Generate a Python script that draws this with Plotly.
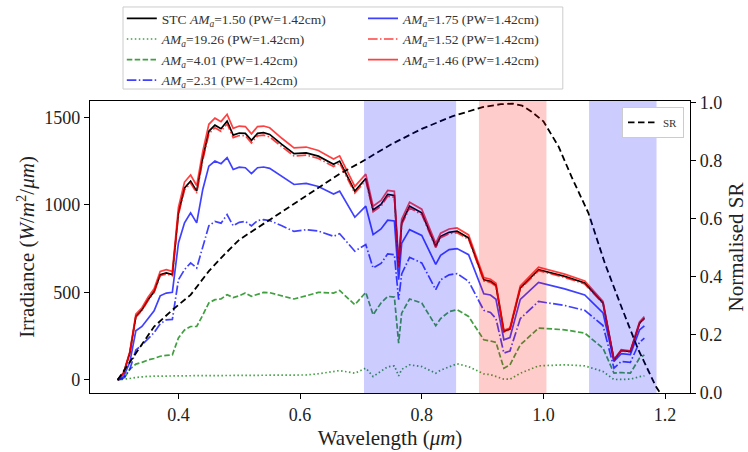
import plotly.graph_objects as go

wavelength = [0.300, 0.310, 0.320, 0.330, 0.340, 0.350, 0.360, 0.370, 0.380, 0.390,
              0.400, 0.410, 0.420, 0.430, 0.440, 0.450, 0.460, 0.470, 0.480, 0.490,
              0.500, 0.510, 0.520, 0.530, 0.540, 0.550, 0.570, 0.590, 0.610, 0.630,
              0.655, 0.665, 0.690, 0.708, 0.720, 0.733, 0.744, 0.755, 0.762, 0.767,
              0.780, 0.800, 0.823, 0.831, 0.845, 0.858, 0.877, 0.902, 0.913, 0.922,
              0.935, 0.945, 0.962, 0.992, 1.035, 1.068, 1.098, 1.116, 1.128, 1.143,
              1.158, 1.166]

stc_am150 = [0, 40, 153, 362, 400, 458, 505, 601, 611, 601,
             954, 1097, 1135, 1078, 1269, 1420, 1455, 1435, 1478, 1398,
             1410, 1408, 1368, 1408, 1412, 1402, 1345, 1292, 1297, 1278,
             1231, 1250, 1078, 1150, 970, 1002, 1059, 1053, 648, 897,
             992, 954, 763, 820, 843, 849, 811, 572, 563, 540,
             277, 290, 525, 630, 591, 553, 439, 114, 168, 162,
             324, 353]

am1926 = [0, 2, 8, 14, 18, 20, 21, 22, 23, 23,
          24, 24, 24, 24, 24, 24, 24, 24, 24, 24,
          24, 24, 24, 24, 24, 24, 24, 25, 28, 35,
          45, 53, 38, 67, 19, 48, 75, 80, 23, 60,
          86, 76, 38, 55, 76, 92, 76, 34, 30, 19,
          4, 4, 38, 80, 86, 80, 48, 2, 4, 4,
          18, 23]

am401 = [0, 5, 60, 90, 100, 114, 122, 135, 140, 143,
         240, 285, 305, 305, 370, 440, 458, 462, 487, 470,
         480, 496, 477, 490, 500, 498, 480, 462, 480, 500,
         496, 511, 429, 500, 372, 439, 477, 473, 210, 381,
         462, 439, 309, 350, 390, 401, 362, 229, 222, 214,
         67, 86, 200, 296, 286, 267, 181, 38, 42, 38,
         124, 143]

am231 = [0, 10, 60, 170, 200, 235, 270, 320, 343, 345,
         572, 630, 668, 639, 760, 880, 905, 895, 944, 880,
         900, 905, 880, 910, 915, 910, 880, 848, 858, 850,
         820, 835, 735, 773, 639, 665, 720, 715, 458, 605,
         700, 668, 515, 572, 600, 607, 563, 397, 385, 350,
         153, 165, 350, 448, 425, 397, 310, 67, 105, 100,
         215, 238]

am175 = [0, 20, 100, 280, 305, 350, 395, 480, 496, 500,
         782, 897, 954, 897, 1088, 1221, 1250, 1235, 1269, 1202,
         1215, 1212, 1178, 1212, 1216, 1208, 1160, 1116, 1122, 1105,
         1062, 1078, 929, 992, 830, 862, 912, 908, 572, 780,
         858, 825, 660, 712, 744, 750, 715, 492, 485, 460,
         229, 242, 460, 557, 520, 485, 383, 105, 150, 145,
         285, 309]

am152 = [0, 39, 151, 358, 396, 453, 500, 595, 605, 595,
         944, 1086, 1124, 1067, 1256, 1406, 1440, 1420, 1463, 1384,
         1396, 1394, 1354, 1394, 1398, 1388, 1332, 1279, 1284, 1265,
         1219, 1238, 1067, 1139, 960, 992, 1049, 1043, 640, 888,
         982, 945, 755, 812, 835, 841, 803, 566, 557, 534,
         273, 287, 520, 624, 585, 548, 435, 112, 166, 160,
         321, 350]

am146 = [0, 42, 160, 375, 412, 472, 520, 620, 630, 620,
         985, 1130, 1170, 1110, 1305, 1460, 1495, 1475, 1517, 1437,
         1450, 1447, 1405, 1447, 1450, 1440, 1380, 1325, 1330, 1310,
         1262, 1280, 1105, 1175, 992, 1025, 1082, 1077, 660, 918,
         1015, 975, 780, 838, 862, 868, 828, 584, 575, 552,
         283, 296, 537, 644, 604, 565, 449, 117, 172, 166,
         331, 361]

sr_wavelength = [0.30, 0.33, 0.36, 0.39, 0.42, 0.45, 0.475, 0.50, 0.55, 0.60,
                 0.632, 0.665, 0.70, 0.75, 0.80, 0.85, 0.90, 0.93, 0.95, 0.965,
                 0.98, 1.00, 1.025, 1.046, 1.074, 1.101, 1.128, 1.155, 1.185, 1.192]
sr_values = [0.045, 0.137, 0.229, 0.286, 0.338, 0.42, 0.476, 0.528, 0.597, 0.665,
             0.711, 0.755, 0.795, 0.857, 0.91, 0.953, 0.985, 0.995, 0.997, 0.99,
             0.97, 0.936, 0.849, 0.746, 0.62, 0.447, 0.298, 0.154, 0.022, 0.0]

bands = [(0.705, 0.8565, "blue"), (0.894, 1.005, "red"), (1.075, 1.186, "blue")]

AM = "<i>AM</i><sub><i>a</i></sub>"
series = [
    ("STC " + AM + "=1.50 (PW=1.42cm)", stc_am150, "black", "solid", "legend"),
    (AM + "=19.26 (PW=1.42cm)", am1926, "rgba(0,128,0,0.75)", "1.5px,2.5px", "legend"),
    (AM + "=4.01 (PW=1.42cm)", am401, "rgba(0,128,0,0.75)", "5.5px,2.4px", "legend"),
    (AM + "=2.31 (PW=1.42cm)", am231, "rgba(0,0,255,0.75)", "9.6px,2.4px,1.5px,2.4px", "legend"),
    (AM + "=1.75 (PW=1.42cm)", am175, "rgba(0,0,255,0.75)", "solid", "legend3"),
    (AM + "=1.52 (PW=1.42cm)", am152, "rgba(255,0,0,0.75)", "9.6px,2.4px,1.5px,2.4px", "legend3"),
    (AM + "=1.46 (PW=1.42cm)", am146, "rgba(255,0,0,0.75)", "solid", "legend3"),
]

FONT = "Liberation Serif"
fig = go.Figure()
for name, vals, color, dash, leg in series:
    fig.add_trace(go.Scatter(x=wavelength, y=vals, mode="lines", name=name,
                             line=dict(color=color, width=1.7, dash=dash), legend=leg))

fig.add_trace(go.Scatter(x=sr_wavelength, y=sr_values, mode="lines", name="SR",
                         line=dict(color="black", width=1.8, dash="6.5px,3.5px"),
                         yaxis="y2", legend="legend2"))

for x0, x1, c in bands:
    fig.add_vrect(x0=x0, x1=x1, fillcolor=c, opacity=0.2, line_width=0, layer="above")

# legend frame
fig.add_shape(type="rect", xref="paper", yref="paper", x0=0.055, x1=0.788, y0=1.041, y1=1.322,
              fillcolor="white", line=dict(color="#cccccc", width=1), layer="below")

axis_common = dict(showline=True, linecolor="black", linewidth=1.2, ticks="outside",
                   ticklen=5, tickwidth=1.2, tickcolor="black", showgrid=False,
                   zeroline=False, tickfont=dict(family=FONT, size=18, color="#222"))

legend_font = dict(family=FONT, size=13.5, color="#333")
fig.update_layout(
    width=748, height=452,
    margin=dict(l=90, r=58, t=101, b=59, autoexpand=False),
    paper_bgcolor="white", plot_bgcolor="white",
    font=dict(family=FONT, color="#222"),
    xaxis=dict(range=[0.2546, 1.241], tickvals=[0.4, 0.6, 0.8, 1.0, 1.2], tickformat=".1f",
               mirror=True,
               title=dict(text="Wavelength (<i>μm</i>)", font=dict(family=FONT, size=21), standoff=6),
               **axis_common),
    yaxis=dict(range=[-75, 1593], tickvals=[0, 500, 1000, 1500],
               title=dict(text="Irradiance (<i>W</i>/<i>m</i><sup>2</sup>/<i>μm</i>)",
                          font=dict(family=FONT, size=21), standoff=3),
               **axis_common),
    yaxis2=dict(range=[0, 1.006], overlaying="y", side="right", tickvals=[0, 0.2, 0.4, 0.6, 0.8, 1.0],
                tickformat=".1f",
                title=dict(text="Normalised SR", font=dict(family=FONT, size=21), standoff=8),
                **axis_common),
    legend=dict(x=0.053, y=1.335, xanchor="left", yanchor="top", itemwidth=30,
                bgcolor="rgba(0,0,0,0)", borderwidth=0, font=legend_font, tracegroupgap=0),
    legend3=dict(x=0.455, y=1.335, xanchor="left", yanchor="top", itemwidth=30,
                 bgcolor="rgba(0,0,0,0)", borderwidth=0, font=legend_font, tracegroupgap=0),
    legend2=dict(x=0.99, y=0.98, xanchor="right", yanchor="top", itemwidth=30,
                 bgcolor="white", bordercolor="#cccccc", borderwidth=1,
                 font=dict(family=FONT, size=11, color="#333")),
    showlegend=True,
)

fig.write_html("out.html", config={"displayModeBar": False},
               post_script="document.body.style.margin='0';")
